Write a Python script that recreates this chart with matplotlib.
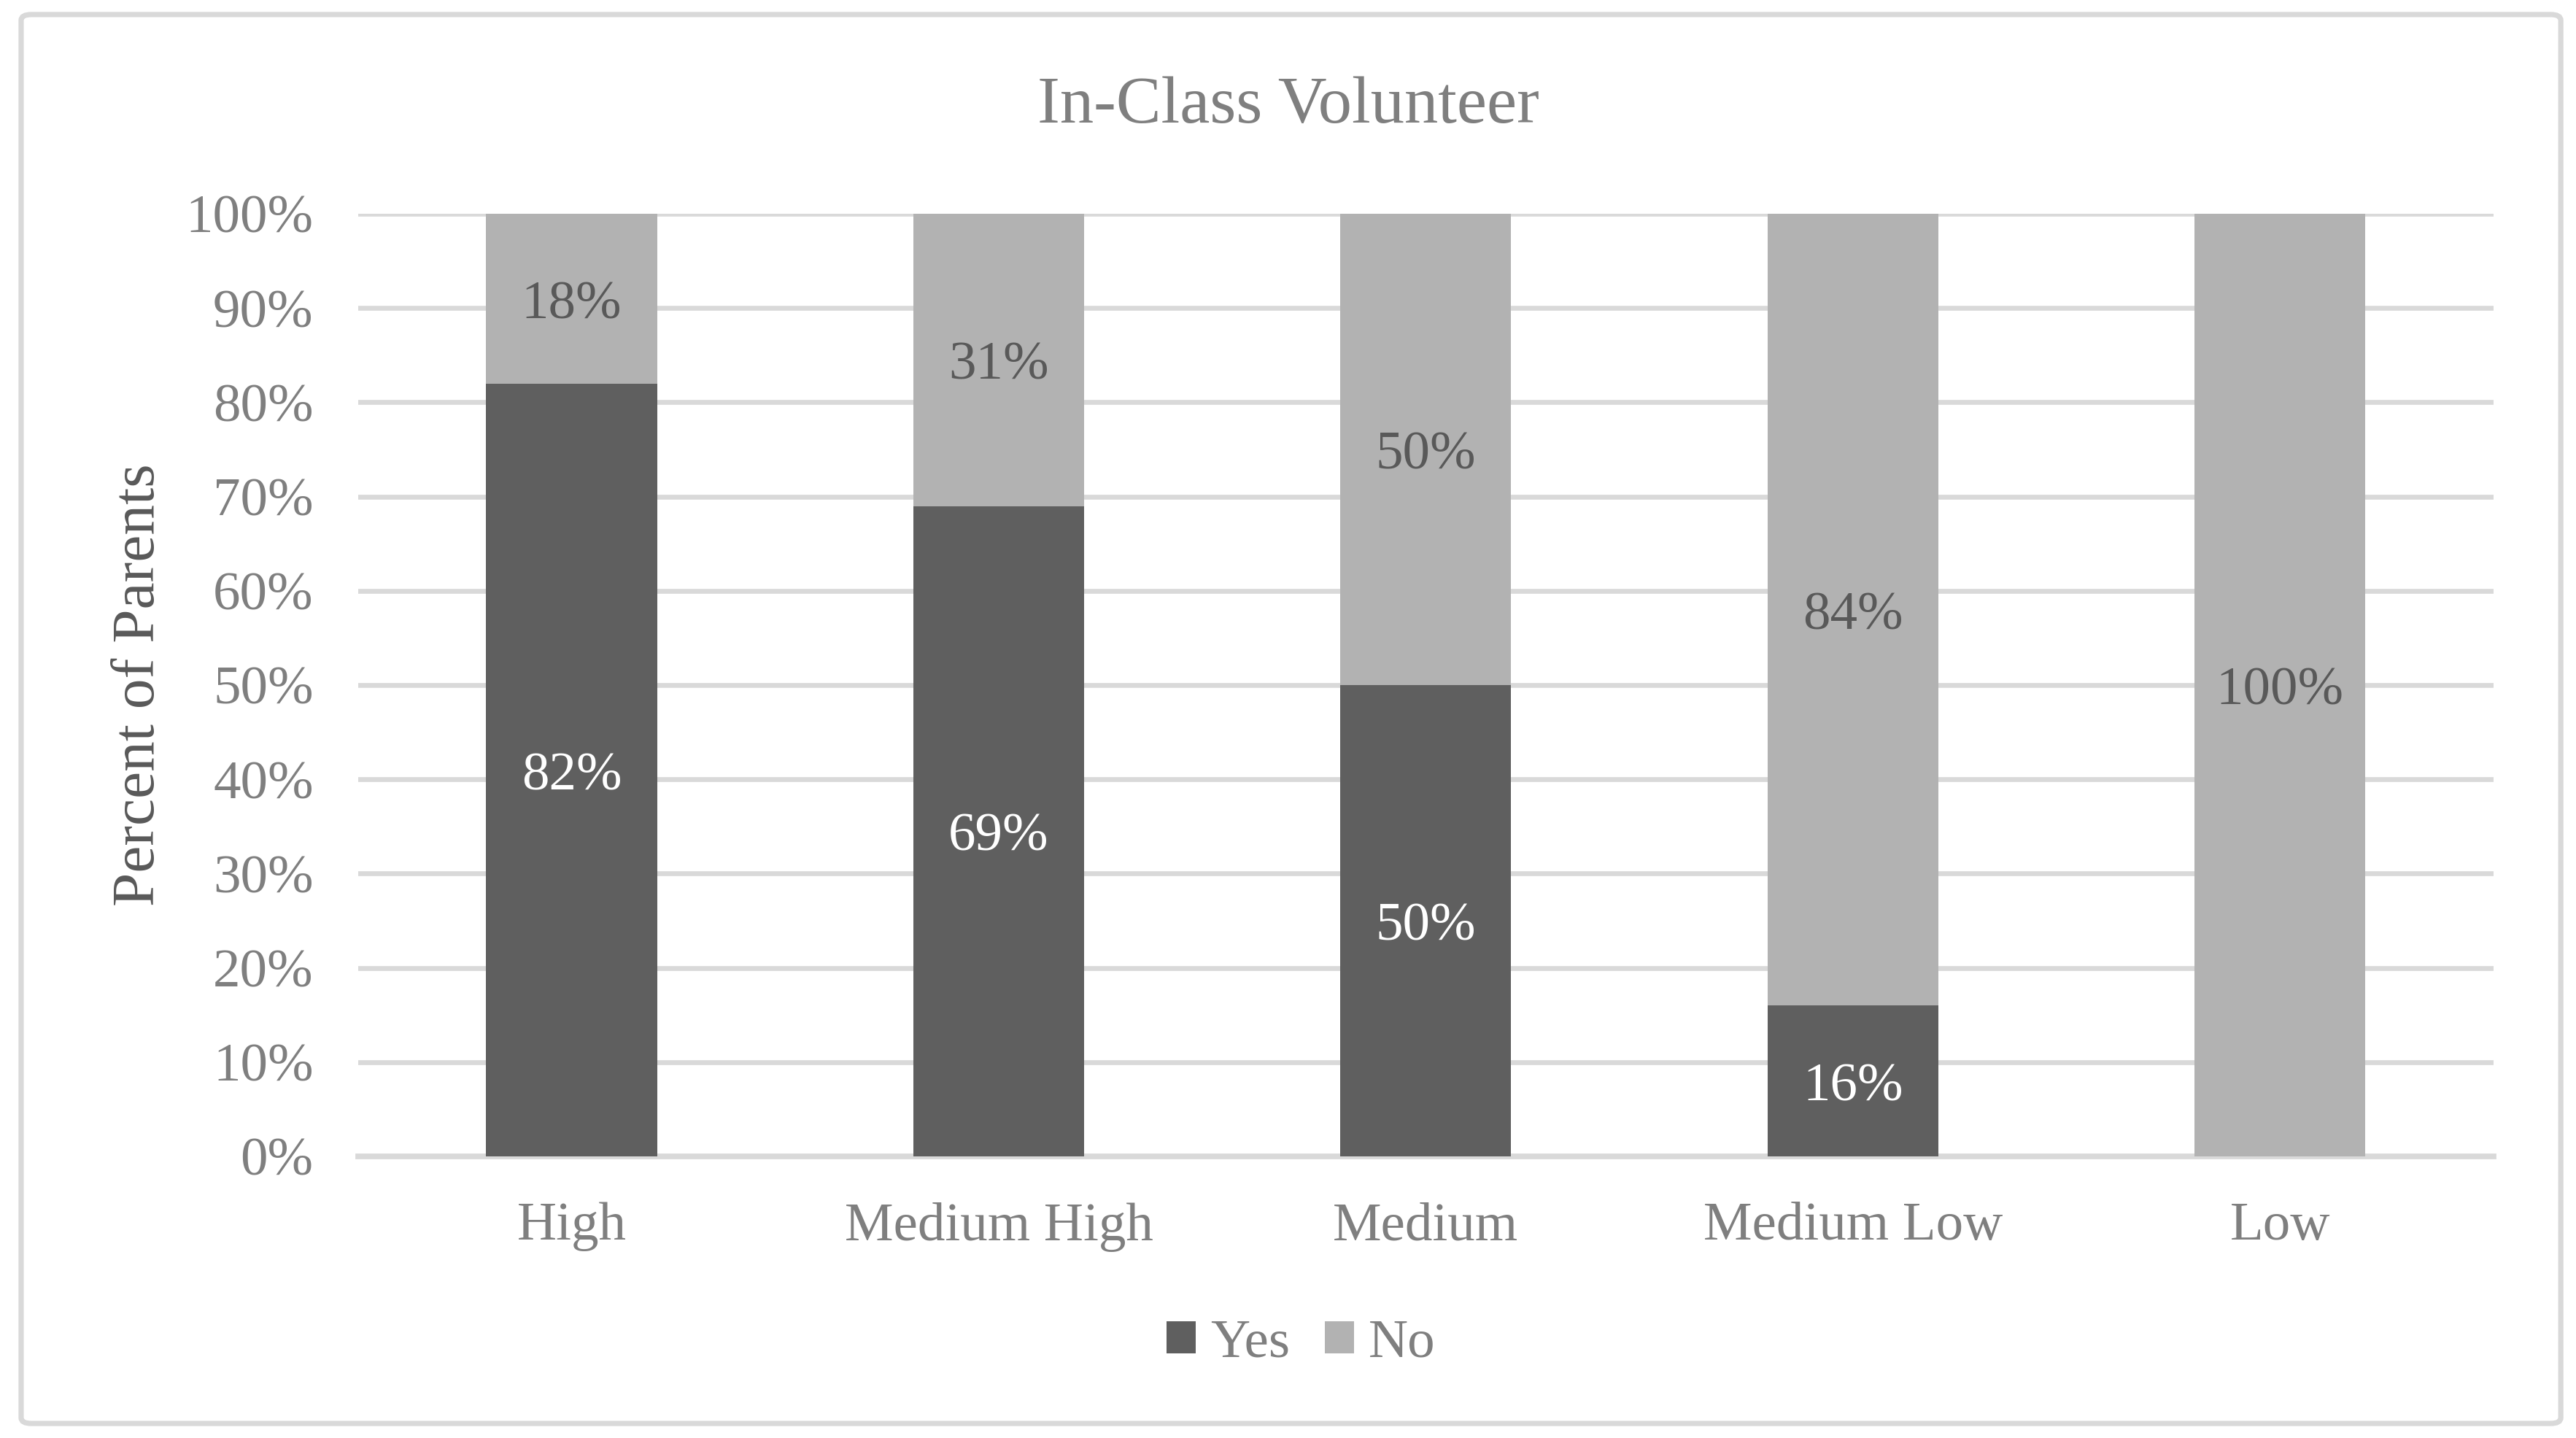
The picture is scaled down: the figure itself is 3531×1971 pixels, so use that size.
import numpy as np
import matplotlib.pyplot as plt
from matplotlib.patches import FancyBboxPatch

plt.rcParams['font.family'] = ['Liberation Serif', 'DejaVu Serif']

# Данные
categories = ['High', 'Medium High', 'Medium', 'Medium Low', 'Low']
yes_vals = [82, 69, 50, 16, 0]
no_vals = [18, 31, 50, 84, 100]
yticks = np.arange(0, 101, 10)
ytick_labels = [f"{v}%" for v in yticks]

c_yes = '#5f5f5f'
c_no = '#b2b2b2'
c_grid = '#d9d9d9'
c_text = '#7f7f7f'

fig = plt.figure(figsize=(17.655, 9.855), dpi=200)
ax = fig.add_axes([0.139, 0.1958, 0.829, 0.6555])

x = np.arange(len(categories))
b_yes = ax.bar(x, yes_vals, width=0.4, color=c_yes, label='Yes', zorder=3)
b_no = ax.bar(x, no_vals, width=0.4, bottom=yes_vals, color=c_no, label='No', zorder=3)

# Подписи на сегментах (нулевые не показываем)
for i in range(len(categories)):
    if yes_vals[i] > 0:
        ax.annotate(f"{yes_vals[i]}%", (x[i], yes_vals[i] / 2), xytext=(0, -3.2),
                    textcoords='offset points', ha='center', va='center',
                    fontsize=27, color='white', zorder=4)
    if no_vals[i] > 0:
        ax.annotate(f"{no_vals[i]}%", (x[i], yes_vals[i] + no_vals[i] / 2), xytext=(0, -3.2),
                    textcoords='offset points', ha='center', va='center',
                    fontsize=27, color='#595959', zorder=4)

ax.set_xlim(-0.5, len(categories) - 0.5)
ax.set_ylim(0, 100)
ax.set_yticks(yticks)
ax.set_yticklabels(ytick_labels)
ax.set_xticks(x)
ax.set_xticklabels(categories)
ax.tick_params(axis='both', length=0, labelsize=27, labelcolor=c_text)
ax.tick_params(axis='y', pad=22)
ax.tick_params(axis='x', pad=22.5)

ax.yaxis.grid(True, color=c_grid, linewidth=2.4)
ax.set_axisbelow(True)
for s in ['top', 'right', 'left']:
    ax.spines[s].set_visible(False)
ax.spines['bottom'].set_color(c_grid)
ax.spines['bottom'].set_linewidth(2.8)
ax.spines['bottom'].set_zorder(2)

ax.set_ylabel('Percent of Parents', fontsize=30, color='#595959')
ax.yaxis.set_label_coords(-0.0895, 0.5)

fig.text(0.5, 1 - 168 / 1971, 'In-Class Volunteer', ha='center', va='baseline',
         fontsize=33.3, color=c_text)

leg = fig.legend(handles=[b_yes, b_no], labels=['Yes', 'No'], loc='center',
                 bbox_to_anchor=(0.505, 0.0655), ncol=2, frameon=False, fontsize=27,
                 handlelength=0.53, handleheight=0.53, handletextpad=0.27,
                 columnspacing=0.64, labelcolor=c_text)

# Рамка вокруг диаграммы
border = FancyBboxPatch((0.0082, 0.0101), 0.9859, 0.9798,
                        boxstyle='round,pad=0,rounding_size=0.004',
                        transform=fig.transFigure, fill=False,
                        edgecolor=c_grid, linewidth=2.6)
fig.patches.append(border)

plt.savefig('out.png', dpi=200)
